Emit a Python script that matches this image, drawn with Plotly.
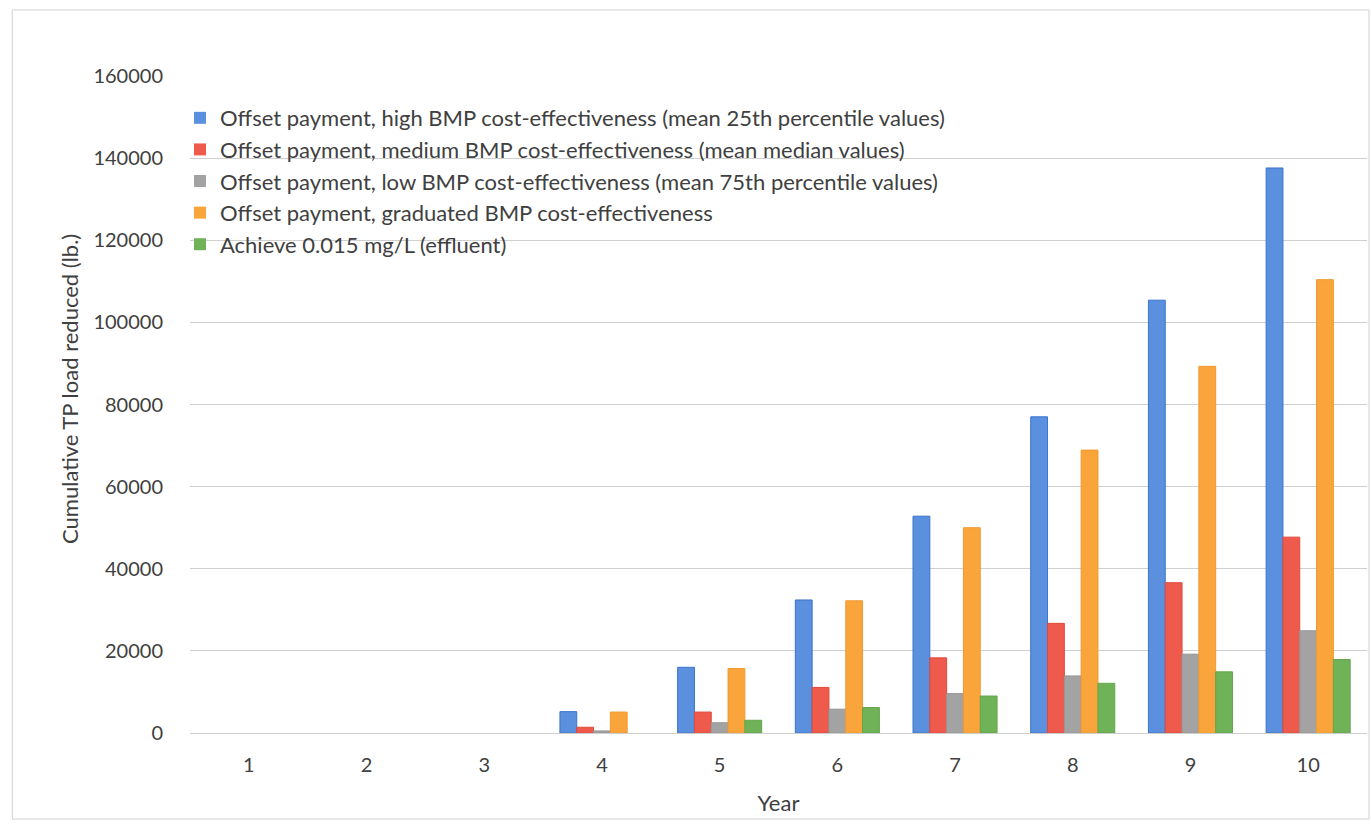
import plotly.graph_objects as go

# Cumulative total phosphorus load reduced, by year and scenario (lb.)
years = ["1", "2", "3", "4", "5", "6", "7", "8", "9", "10"]
series_names = [
    "Offset payment, high BMP cost-effectiveness (mean 25th percentile values)",
    "Offset payment, medium BMP cost-effectiveness (mean median values)",
    "Offset payment, low BMP cost-effectiveness (mean 75th percentile values)",
    "Offset payment, graduated BMP cost-effectiveness",
    "Achieve 0.015 mg/L (effluent)",
]
high_bmp = [0, 0, 0, 5200, 16000, 32400, 52800, 77000, 105400, 137600]
medium_bmp = [0, 0, 0, 1400, 5100, 11100, 18300, 26700, 36600, 47700]
low_bmp = [0, 0, 0, 500, 2500, 5800, 9600, 13900, 19200, 24900]
graduated_bmp = [0, 0, 0, 5100, 15700, 32200, 50000, 68900, 89300, 110400]
effluent = [0, 0, 0, 0, 3100, 6200, 9000, 12100, 14900, 17900]

y_ticks = [0, 20000, 40000, 60000, 80000, 100000, 120000, 140000, 160000]

series_values = [high_bmp, medium_bmp, low_bmp, graduated_bmp, effluent]
fill_colors = ["#5b90de", "#ee5a4b", "#a3a3a3", "#f9a53c", "#6fb257"]
edge_colors = ["#3a72cc", "#e04a3c", "#969696", "#f09a30", "#63a64c"]

FONT = "Lato"
TEXT = "#404040"

fig = go.Figure()
for name, vals, fc, ec in zip(series_names, series_values, fill_colors, edge_colors):
    fig.add_trace(go.Bar(
        x=years, y=vals, name=name,
        # no outline on empty years, so nothing is drawn at zero
        marker=dict(color=fc, line=dict(color=ec, width=[1 if v > 0 else 0 for v in vals])),
    ))

fig.update_layout(
    width=1371, height=826,
    margin=dict(l=190, r=4, t=76, b=93),
    paper_bgcolor="white", plot_bgcolor="white",
    barmode="group", bargap=0.286, bargroupgap=0,
    font=dict(family=FONT, size=20, color=TEXT),
    legend=dict(
        x=-0.0085, y=0.968, xanchor="left", yanchor="top",
        bgcolor="rgba(0,0,0,0)",
        font=dict(family=FONT, size=22, color=TEXT),
        itemwidth=30, tracegroupgap=0,
    ),
    xaxis=dict(
        title=dict(text="Year", font=dict(family=FONT, size=22, color=TEXT), standoff=20),
        tickfont=dict(family=FONT, size=20, color=TEXT),
        showgrid=False, showline=False, ticks="",
        ticklabelstandoff=18,
    ),
    yaxis=dict(
        range=[0, 160000], tickvals=y_ticks,
        ticktext=[str(v) for v in y_ticks],
        tickfont=dict(family=FONT, size=20, color=TEXT),
        showgrid=True, gridcolor="#cfcfcf", gridwidth=1,
        zeroline=True, zerolinecolor="#cfcfcf", zerolinewidth=1,
        showline=False, ticks="", ticklabelstandoff=26,
    ),
    annotations=[dict(
        text="Cumulative TP load reduced (lb.)", textangle=-90,
        xref="paper", yref="paper", x=-0.102, y=0.5236,
        xanchor="center", yanchor="middle", showarrow=False,
        font=dict(family=FONT, size=22, color=TEXT),
    )],
    shapes=[dict(
        type="rect", xref="paper", yref="paper",
        x0=-0.151, x1=1.0017, y0=-0.131, y1=1.1005,
        line=dict(color="#d0d0d0", width=1), fillcolor="rgba(0,0,0,0)",
        layer="below",
    )],
)

fig.write_html("out.html")
